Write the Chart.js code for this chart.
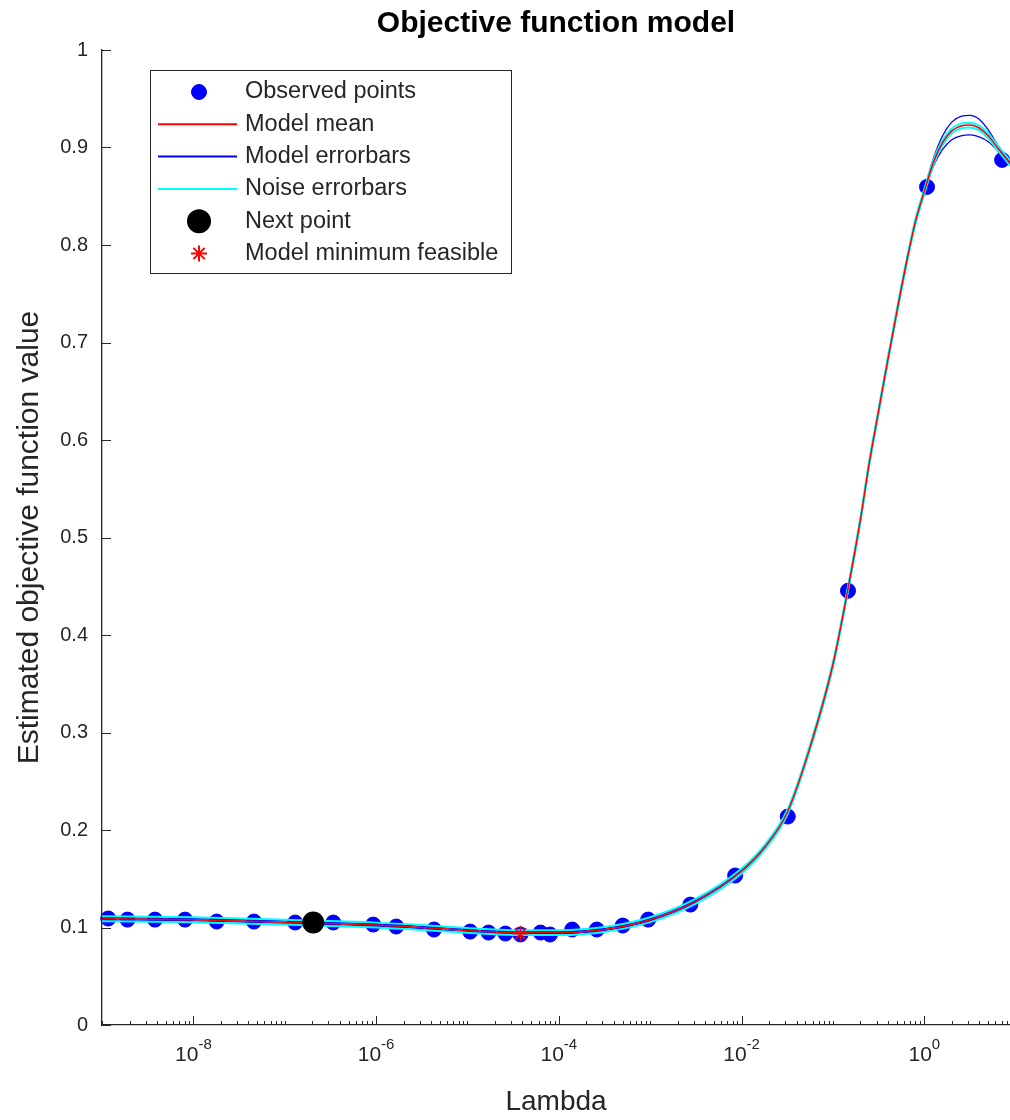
<!DOCTYPE html>
<html>
<head>
<meta charset="utf-8">
<title>Objective function model</title>
<script src="https://cdn.jsdelivr.net/npm/chart.js@4.4.0/dist/chart.umd.min.js"></script>
<style>
    html, body { margin: 0; padding: 0; background: #ffffff; overflow: hidden; }
    #caja { width: 1010px; height: 1120px; position: relative; }
    #grafico { display: block; }
</style>
</head>
<body>
<div id="caja"><canvas id="grafico"></canvas></div>
<script>
//Puntos observados (lambda, valor)
const lambdaObservados = [1.17e-9, 1.9e-9, 3.8e-9, 8.1e-9, 1.8e-8, 4.6e-8, 1.3e-7, 3.4e-7, 9.3e-7, 1.66e-6,
    4.3e-6, 1.07e-5, 1.7e-5, 2.6e-5, 3.8e-5, 6.3e-5, 8.0e-5, 1.4e-4, 2.6e-4, 5.0e-4,
    9.5e-4, 2.75e-3, 8.5e-3, 3.2e-2, 0.146, 1.07, 7.1];
const valorObservados = [0.1092, 0.1081, 0.1081, 0.1081, 0.1061, 0.1061, 0.1051, 0.1051, 0.1030, 0.1010,
    0.0979, 0.0958, 0.0948, 0.0938, 0.0928, 0.0948, 0.0928, 0.0979, 0.0979, 0.1020,
    0.1081, 0.1235, 0.1533, 0.2138, 0.4454, 0.8596, 0.8873];

//Curvas del modelo
const lambdaModelo = [1e-9, 1e-8, 1e-7, 1e-6, 3.16e-6, 1e-5, 3.16e-5, 1e-4, 3.16e-4, 1e-3,
    3.16e-3, 1e-2, 1.78e-2, 3.16e-2, 5.62e-2, 0.1, 0.1445, 0.1995, 0.2512, 0.3162,
    0.3981, 0.5012, 0.631, 0.7943, 1, 1.259, 1.585, 1.995, 2.512, 3.162,
    3.981, 5.012, 6.31, 8.66];
const mediaModelo = [0.109, 0.108, 0.1055, 0.1025, 0.100, 0.097, 0.0948, 0.0948, 0.098, 0.108,
    0.127, 0.158, 0.182, 0.218, 0.285, 0.370, 0.445, 0.518, 0.578, 0.630,
    0.682, 0.732, 0.780, 0.823, 0.855, 0.885, 0.905, 0.917, 0.922, 0.923,
    0.920, 0.912, 0.900, 0.884];
const modeloSuperior = [0.1102, 0.1092, 0.1067, 0.1037, 0.1012, 0.0982, 0.0960, 0.0960, 0.0992, 0.1092,
    0.1282, 0.1592, 0.1832, 0.2192, 0.2862, 0.371, 0.446, 0.519, 0.579, 0.631,
    0.683, 0.733, 0.781, 0.8245, 0.857, 0.889, 0.912, 0.926, 0.932, 0.933,
    0.929, 0.918, 0.903, 0.885];
const modeloInferior = [0.1078, 0.1068, 0.1043, 0.1013, 0.0988, 0.0958, 0.0936, 0.0936, 0.0968, 0.1068,
    0.1258, 0.1568, 0.1808, 0.2168, 0.2838, 0.369, 0.444, 0.517, 0.577, 0.629,
    0.681, 0.731, 0.779, 0.8215, 0.853, 0.881, 0.898, 0.908, 0.912, 0.913,
    0.911, 0.906, 0.897, 0.883];
const ruidoSuperior = [0.1115, 0.1105, 0.108, 0.105, 0.1025, 0.0995, 0.0973, 0.0973, 0.1005, 0.1105,
    0.1295, 0.1605, 0.1845, 0.2205, 0.2875, 0.3725, 0.4475, 0.5205, 0.5805, 0.6325,
    0.6845, 0.7345, 0.7825, 0.8255, 0.8575, 0.8875, 0.9075, 0.9195, 0.9245, 0.9255,
    0.9225, 0.9145, 0.9025, 0.8865];
const ruidoInferior = [0.1065, 0.1055, 0.103, 0.100, 0.0975, 0.0945, 0.0923, 0.0923, 0.0955, 0.1055,
    0.1245, 0.1555, 0.1795, 0.2155, 0.2825, 0.3675, 0.4425, 0.5155, 0.5755, 0.6275,
    0.6795, 0.7295, 0.7775, 0.8205, 0.8525, 0.8825, 0.9025, 0.9145, 0.9195, 0.9205,
    0.9175, 0.9095, 0.8975, 0.8815];

//Siguiente punto y minimo del modelo
const lambdaSiguiente = [2.05e-7];
const valorSiguiente = [0.1051];
const lambdaMinimo = [3.8e-5];
const valorMinimo = [0.0935];

//Etiquetas del eje x (exponentes de 10) y de la leyenda
const exponentesX = [-8, -6, -4, -2, 0];
const textosLeyenda = ['Observed points', 'Model mean', 'Model errorbars', 'Noise errorbars', 'Next point', 'Model minimum feasible'];

const fuente = "'Liberation Sans', Arial, Helvetica, sans-serif";
const gris = '#262626';

function puntos(xs, ys) {
    return xs.map(function (x, i) { return { x: x, y: ys[i] }; });
}

//Marcas hacia dentro, etiquetas 10^n y leyenda dentro del grafico
const extras = {
    id: 'extras',
    afterDraw: function (chart) {
        const ctx = chart.ctx;
        const ejeX = chart.scales.x;
        const ejeY = chart.scales.y;
        const area = chart.chartArea;

        ctx.save();
        ctx.strokeStyle = gris;
        ctx.lineWidth = 1;

        ejeY.ticks.forEach(function (t) {
            const py = Math.round(ejeY.getPixelForValue(t.value)) + 0.5;
            ctx.beginPath();
            ctx.moveTo(area.left, py);
            ctx.lineTo(area.left + 9, py);
            ctx.stroke();
        });

        for (let e = -9; e <= 0; e++) {
            for (let k = 1; k <= 9; k++) {
                const v = k * Math.pow(10, e);
                if (v > ejeX.max) continue;
                const px = Math.round(ejeX.getPixelForValue(v)) + 0.5;
                const largo = (k === 1 && exponentesX.indexOf(e) >= 0) ? 9 : 4;
                ctx.beginPath();
                ctx.moveTo(px, area.bottom);
                ctx.lineTo(px, area.bottom - largo);
                ctx.stroke();
            }
        }

        //Etiquetas 10^n
        ctx.fillStyle = gris;
        ctx.textBaseline = 'alphabetic';
        ctx.textAlign = 'left';
        exponentesX.forEach(function (e) {
            const px = ejeX.getPixelForValue(Math.pow(10, e));
            ctx.font = '21px ' + fuente;
            const anchoBase = ctx.measureText('10').width;
            ctx.font = '15px ' + fuente;
            const anchoExp = ctx.measureText(String(e)).width;
            const inicio = px - (anchoBase + anchoExp) / 2;
            ctx.font = '21px ' + fuente;
            ctx.fillText('10', inicio, 1061);
            ctx.font = '15px ' + fuente;
            ctx.fillText(String(e), inicio + anchoBase, 1049);
        });

        //Leyenda
        const caja = { x: 150.5, y: 70.5, w: 361, h: 203 };
        ctx.fillStyle = '#ffffff';
        ctx.fillRect(caja.x, caja.y, caja.w, caja.h);
        ctx.strokeStyle = gris;
        ctx.lineWidth = 1;
        ctx.strokeRect(caja.x, caja.y, caja.w, caja.h);

        const xm = 199;
        const filas = textosLeyenda.map(function (t, i) { return 92 + i * 32.3; });

        ctx.fillStyle = '#0000ff';
        ctx.strokeStyle = '#0000ff';
        Chart.helpers.drawPoint(ctx, { pointStyle: 'circle', radius: 7.5, borderWidth: 1, rotation: 0 }, xm, filas[0]);

        const coloresLinea = ['#ff0000', '#0000ff', '#00ffff'];
        coloresLinea.forEach(function (c, i) {
            ctx.strokeStyle = c;
            ctx.lineWidth = 2;
            ctx.beginPath();
            ctx.moveTo(158, filas[i + 1]);
            ctx.lineTo(237, filas[i + 1]);
            ctx.stroke();
        });

        ctx.fillStyle = '#000000';
        ctx.strokeStyle = '#000000';
        Chart.helpers.drawPoint(ctx, { pointStyle: 'circle', radius: 11, borderWidth: 1, rotation: 0 }, xm, filas[4]);

        ctx.strokeStyle = '#ff0000';
        Chart.helpers.drawPoint(ctx, { pointStyle: 'star', radius: 8, borderWidth: 1.5, rotation: 0 }, xm, filas[5]);

        ctx.fillStyle = gris;
        ctx.font = '23.5px ' + fuente;
        ctx.textBaseline = 'middle';
        textosLeyenda.forEach(function (t, i) {
            ctx.fillText(t, 245, filas[i]);
        });

        ctx.restore();
    }
};

const ctx = document.getElementById('grafico').getContext('2d');

const grafico = new Chart(ctx, {
    type: 'line',
    data: {
        datasets: [
            {
                data: puntos(lambdaMinimo, valorMinimo),
                showLine: false,
                pointStyle: 'star',
                pointRadius: 8,
                pointBorderWidth: 1.5,
                pointBorderColor: '#ff0000',
                pointBackgroundColor: '#ff0000',
                clip: false
            },
            {
                data: puntos(lambdaSiguiente, valorSiguiente),
                showLine: false,
                pointRadius: 11,
                pointBorderWidth: 0,
                pointBackgroundColor: '#000000',
                clip: false
            },
            {
                data: puntos(lambdaModelo, mediaModelo),
                borderColor: '#ff0000',
                borderWidth: 1.5,
                pointRadius: 0,
                cubicInterpolationMode: 'monotone'
            },
            {
                data: puntos(lambdaModelo, ruidoSuperior),
                borderColor: '#00ffff',
                borderWidth: 2,
                pointRadius: 0,
                cubicInterpolationMode: 'monotone'
            },
            {
                data: puntos(lambdaModelo, ruidoInferior),
                borderColor: '#00ffff',
                borderWidth: 2,
                pointRadius: 0,
                cubicInterpolationMode: 'monotone'
            },
            {
                data: puntos(lambdaModelo, modeloSuperior),
                borderColor: '#0000ff',
                borderWidth: 1.3,
                pointRadius: 0,
                cubicInterpolationMode: 'monotone'
            },
            {
                data: puntos(lambdaModelo, modeloInferior),
                borderColor: '#0000ff',
                borderWidth: 1.3,
                pointRadius: 0,
                cubicInterpolationMode: 'monotone'
            },
            {
                data: puntos(lambdaObservados, valorObservados),
                showLine: false,
                pointRadius: 7.5,
                pointBorderWidth: 1,
                pointBorderColor: '#0000ff',
                pointBackgroundColor: '#0000ff',
                clip: false
            }
        ]
    },
    options: {
        responsive: true,
        maintainAspectRatio: false,
        devicePixelRatio: 1,
        animation: false,
        events: [],
        layout: { padding: 0, autoPadding: false },
        plugins: {
            legend: { display: false },
            tooltip: { enabled: false },
            title: {
                display: true,
                text: 'Objective function model',
                color: '#000000',
                fullSize: false,
                font: { family: fuente, size: 30, weight: 'bold' },
                padding: { top: 6, bottom: 8 }
            }
        },
        scales: {
            x: {
                type: 'logarithmic',
                min: 1e-9,
                max: 8.66,
                grid: { display: false },
                border: { display: true, color: gris, width: 1.3 },
                ticks: { display: false },
                title: {
                    display: true,
                    text: 'Lambda',
                    color: gris,
                    font: { family: fuente, size: 28 },
                    padding: { top: 0, bottom: 1 }
                },
                afterFit: function (escala) { escala.height = 95; }
            },
            y: {
                min: 0,
                max: 1,
                grid: { display: false, drawTicks: false },
                border: { display: true, color: gris, width: 1.3 },
                ticks: {
                    stepSize: 0.1,
                    color: gris,
                    padding: 14,
                    font: { family: fuente, size: 20 },
                    callback: function (v) { return String(Math.round(v * 10) / 10); }
                },
                title: {
                    display: true,
                    text: 'Estimated objective function value',
                    color: gris,
                    font: { family: fuente, size: 30 },
                    padding: { top: 12, bottom: 0 }
                },
                afterFit: function (escala) { escala.width = 102; }
            }
        }
    },
    plugins: [extras]
});
</script>
</body>
</html>
